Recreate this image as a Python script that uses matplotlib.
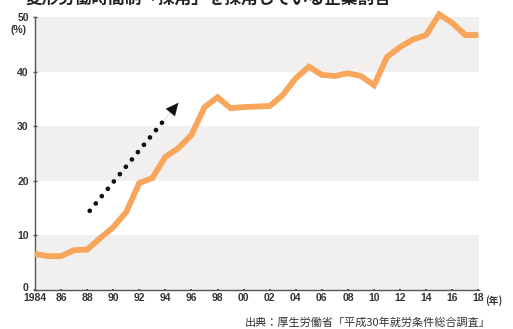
import matplotlib
matplotlib.use("Agg")
import matplotlib.pyplot as plt
from matplotlib.transforms import ScaledTranslation

years = list(range(1984, 2019))
values = [6.6, 6.2, 6.2, 7.3, 7.4, 9.5, 11.5, 14.3, 19.6, 20.5,
          24.4, 26.0, 28.4, 33.5, 35.3, 33.3, 33.5, 33.6, 33.7, 35.7,
          38.8, 40.9, 39.4, 39.2, 39.7, 39.2, 37.5, 42.7, 44.5, 45.9,
          46.7, 50.5, 48.9, 46.7, 46.7]
xtick_pos = list(range(1984, 2019, 2))
xtick_labels = ["1984"] + ["%02d" % (y % 100) for y in range(1986, 2019, 2)]
ytick_pos = [0, 10, 20, 30, 40, 50]
title = "変形労働時間制「採用」を採用している企業割合"
source = "出典：厚生労働省「平成30年就労条件総合調査」"

num_font = "Liberation Sans"
cjk = ["Noto Sans CJK JP", "DejaVu Sans"]

fig = plt.figure(figsize=(5.13, 3.29), dpi=100)
ax = fig.add_axes([0.0682, 0.1185, 0.8655, 0.8298])
ax.set_xlim(1984, 2018.05)
ax.set_ylim(0, 50)

for lo in (0, 20, 40):
    ax.axhspan(lo, lo + 10, color="#f1f0ee", lw=0, zorder=0)

ax.plot(years, values, color="#F8A65C", lw=4.2, solid_joinstyle="miter",
        solid_capstyle="butt", clip_on=False, zorder=3)

# dotted arrow: dotted shaft + solid head
arrow_start = (1988.2, 14.5)
arrow_tip = (1995.0, 34.3)
shaft_end = (1993.9, 31.1)
ax.plot([arrow_start[0], shaft_end[0]], [arrow_start[1], shaft_end[1]],
        color="#111111", lw=3.4, linestyle=(0, (0.01, 2.0)),
        dash_capstyle="round", zorder=4)
ax.annotate("", xy=arrow_tip, xytext=shaft_end,
            arrowprops=dict(arrowstyle="-|>,head_length=0.9,head_width=0.42",
                            color="#111111", lw=0.1, shrinkA=0, shrinkB=0),
            zorder=4)

for s in ("top", "right"):
    ax.spines[s].set_visible(False)
for s in ("left", "bottom"):
    ax.spines[s].set_color("#555555")
    ax.spines[s].set_linewidth(1.0)

ax.set_xticks(xtick_pos)
ax.set_xticklabels(xtick_labels)
ax.set_yticks(ytick_pos)
ax.tick_params(axis="x", length=2, width=1.5, color="#555555", direction="inout", pad=1.5)
ax.tick_params(axis="y", length=3, width=1, color="#555555", direction="inout", pad=3)
for lab in ax.get_xticklabels() + ax.get_yticklabels():
    lab.set_fontfamily(num_font)
    lab.set_fontweight("bold")
    lab.set_fontsize(7.5)
    lab.set_color("#333333")
zero_lab = ax.get_yticklabels()[0]
zero_lab.set_transform(zero_lab.get_transform() +
                       ScaledTranslation(0, 3 / 100, fig.dpi_scale_trans))

fig.text(0.037, 0.91, "(%)", fontfamily=num_font, fontweight="bold",
         fontsize=7.5, color="#333333", ha="center", va="center")
fig.text(0.945, 0.087, "(年)", family=cjk, fontweight="bold",
         fontsize=7, color="#333333", ha="left", va="center")
fig.text(0.956, 0.021, source, family=cjk, fontsize=8, color="#333333",
         ha="right", va="center")
fig.text(0.05, 0.987, title, family=cjk, fontweight="bold", fontsize=12,
         color="#222222", ha="left", va="baseline")

fig.savefig("out.png", dpi=100)
